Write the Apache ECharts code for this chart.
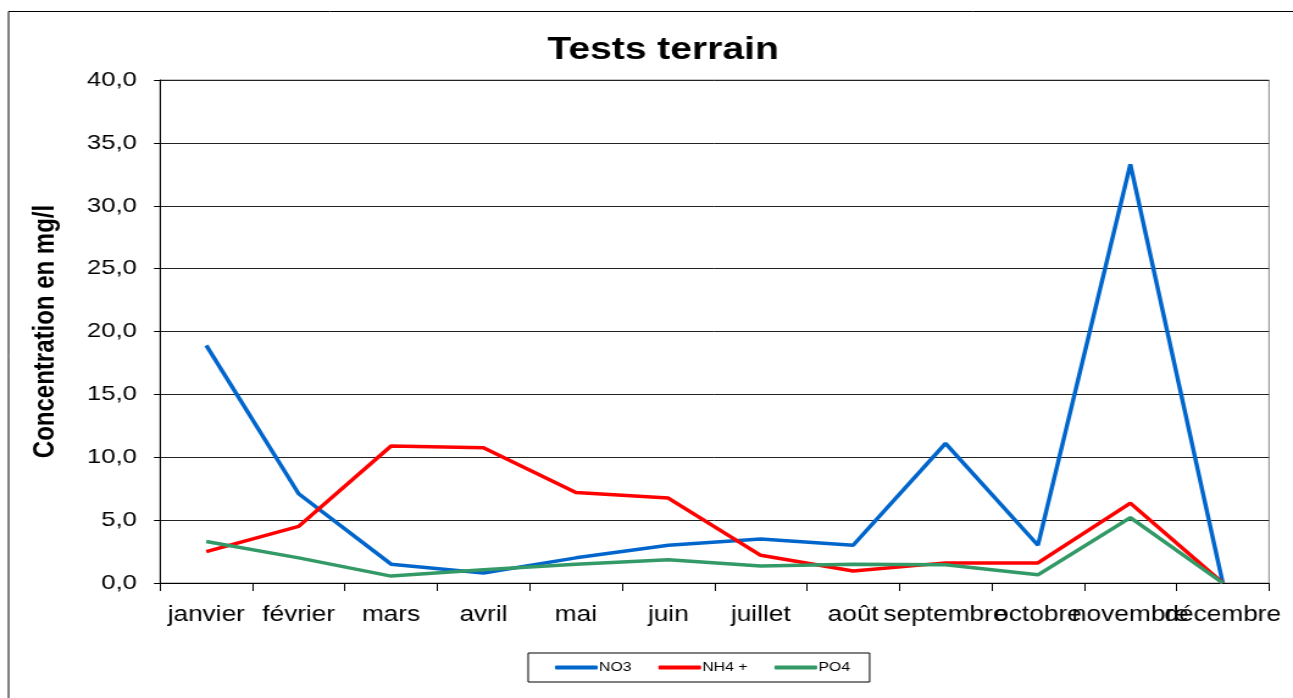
<!DOCTYPE html>
<html><head><meta charset="utf-8">
<script src="https://cdn.jsdelivr.net/npm/echarts@6/dist/echarts.min.js"></script>
<style>html,body{margin:0;padding:0;background:#fff;overflow:hidden}
#c{width:1060px;height:698px;transform:scaleX(1.2198);transform-origin:0 0}</style>
</head><body><div id="c"></div>
<script>
const months = ['janvier','février','mars','avril','mai','juin','juillet','août','septembre','octobre','novembre','décembre'];
const no3 = [18.9, 7.1, 1.5, 0.8, 2.0, 3.0, 3.5, 3.0, 11.1, 3.0, 33.3, 0];
const nh4 = [2.5, 4.5, 10.9, 10.75, 7.2, 6.75, 2.2, 0.95, 1.6, 1.6, 6.35, 0];
const po4 = [3.3, 2.0, 0.55, 1.05, 1.5, 1.85, 1.35, 1.5, 1.45, 0.65, 5.2, 0];
const seriesNames = ['NO3', 'NH4 +', 'PO4'];
const colors = ['#0066CC', '#FF0000', '#339966'];
const font = 'Liberation Sans, Arial, sans-serif';
const chart = echarts.init(document.getElementById('c'));
const mk = (name, data, color) => ({
  name, type: 'line', data, symbol: 'none', smooth: false,
  lineStyle: { color, width: 3.5 }, itemStyle: { color }
});
chart.setOption({
  animation: false,
  title: { text: 'Tests terrain', left: 538.6, top: 29, textAlign: 'center',
    textStyle: { fontFamily: font, fontSize: 32, fontWeight: 'bold', color: '#000' } },
  graphic: [{ type: 'rect', shape: { x: 7, y: 11.5, width: 1100, height: 700 },
    style: { fill: 'none', stroke: '#000', lineWidth: 1 }, silent: true }],
  legend: {
    data: seriesNames, left: 433, top: 653, icon: 'roundRect',
    padding: [8, 16, 8, 22], itemGap: 22, itemWidth: 35, itemHeight: 4,
    borderColor: '#000', borderWidth: 1,
    textStyle: { fontFamily: font, fontSize: 13, color: '#000', padding: [0, 0, 0, -4] }
  },
  grid: { left: 131.2, top: 80, right: 19.7, bottom: 115, show: true, borderColor: '#888', borderWidth: 1, containLabel: false },
  xAxis: {
    type: 'category', data: months, boundaryGap: true,
    axisLine: { lineStyle: { color: '#000', width: 1 } },
    axisTick: { show: true, length: 8, interval: 0, alignWithLabel: false, lineStyle: { color: '#000' } },
    axisLabel: { interval: 0, hideOverlap: false, margin: 21, fontFamily: font, fontSize: 21.5, color: '#000' }
  },
  yAxis: {
    type: 'value', min: 0, max: 40, interval: 5,
    name: 'Concentration en mg/l', nameLocation: 'middle', nameGap: 82,
    nameTextStyle: { fontFamily: font, fontSize: 24, fontWeight: 'bold', color: '#000' },
    axisLine: { show: true, lineStyle: { color: '#000', width: 1 } },
    axisTick: { show: true, length: 5, lineStyle: { color: '#000' } },
    splitLine: { show: true, lineStyle: { color: '#222', width: 1 } },
    axisLabel: { margin: 19, fontFamily: font, fontSize: 21, color: '#000',
      formatter: v => v.toFixed(1).replace('.', ',') }
  },
  series: [mk(seriesNames[0], no3, colors[0]), mk(seriesNames[1], nh4, colors[1]), mk(seriesNames[2], po4, colors[2])]
});
</script></body></html>
